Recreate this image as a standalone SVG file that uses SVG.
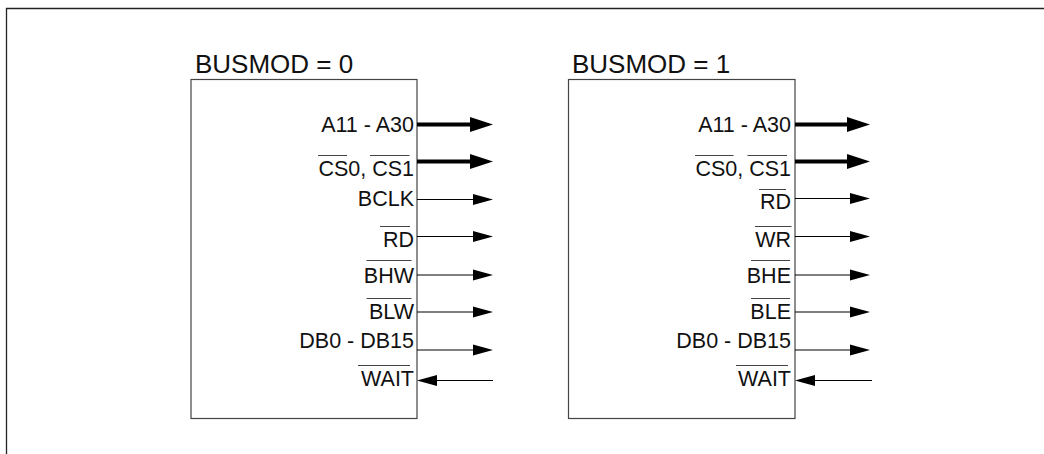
<svg xmlns="http://www.w3.org/2000/svg" width="1044" height="454" viewBox="0 0 1044 454">
<defs>
<style>
.frame{fill:none;stroke:#222;stroke-width:1.3}
.box{fill:#fff;stroke:#444;stroke-width:1.2}
.title{font-family:"Liberation Sans",Arial,sans-serif;font-size:26px;fill:#111}
.lbl{font-family:"Liberation Sans",Arial,sans-serif;font-size:21.5px;fill:#111;text-anchor:end}
.ov{stroke:#444;stroke-width:1;fill:none}
.thin{stroke:#000;stroke-width:1.2;fill:none}
.thick{stroke:#000;stroke-width:4;fill:none}
.head{fill:#000}
</style>
</defs>
<rect width="1044" height="454" fill="#fff"/>
<path class="frame" d="M6.5,454 V8.5 H1044"/>

<g id="node-busmod0">
<rect class="box" x="191" y="79.5" width="226" height="339"/>
<text class="title" x="195" y="73">BUSMOD = 0</text>
<text class="lbl" x="414" y="131.5">A11 - A30</text>
<text class="lbl" x="414" y="176">CS0, CS1</text>
<line class="ov" x1="318" y1="155.5" x2="347" y2="155.5"/>
<line class="ov" x1="370" y1="155.5" x2="409.5" y2="155.5"/>
<text class="lbl" x="414" y="206">BCLK</text>
<text class="lbl" x="414" y="246.5">RD</text>
<line class="ov" x1="380" y1="226.5" x2="410" y2="226.5"/>
<text class="lbl" x="414" y="282.5">BHW</text>
<line class="ov" x1="366.5" y1="260.5" x2="411.5" y2="260.5"/>
<text class="lbl" x="414" y="319">BLW</text>
<line class="ov" x1="366.5" y1="298.5" x2="411.5" y2="298.5"/>
<text class="lbl" x="414" y="348">DB0 - DB15</text>
<text class="lbl" x="414" y="385.5">WAIT</text>
<line class="ov" x1="358" y1="365.5" x2="410" y2="365.5"/>
</g>

<g id="node-busmod1">
<rect class="box" x="568.5" y="79.5" width="226.5" height="339"/>
<text class="title" x="572" y="73">BUSMOD = 1</text>
<text class="lbl" x="791" y="131.5">A11 - A30</text>
<text class="lbl" x="791" y="176">CS0, CS1</text>
<line class="ov" x1="695" y1="155.5" x2="733.5" y2="155.5"/>
<line class="ov" x1="747.5" y1="155.5" x2="787" y2="155.5"/>
<text class="lbl" x="791" y="209">RD</text>
<line class="ov" x1="759" y1="189.5" x2="786" y2="189.5"/>
<text class="lbl" x="791" y="246.5">WR</text>
<line class="ov" x1="755" y1="226.5" x2="791.5" y2="226.5"/>
<text class="lbl" x="791" y="282.5">BHE</text>
<line class="ov" x1="751" y1="260.5" x2="790" y2="260.5"/>
<text class="lbl" x="791" y="319">BLE</text>
<line class="ov" x1="751" y1="298.5" x2="790" y2="298.5"/>
<text class="lbl" x="791" y="348">DB0 - DB15</text>
<text class="lbl" x="791" y="385.5">WAIT</text>
<line class="ov" x1="736" y1="365.5" x2="788" y2="365.5"/>
</g>

<g id="connectors">
<line class="thick" x1="417" y1="124.5" x2="472" y2="124.5"/>
<polygon class="head" points="470,117 493,124.5 470,132"/>
<line class="thick" x1="417" y1="161.5" x2="472" y2="161.5"/>
<polygon class="head" points="470,154 493,161.5 470,169"/>
<line class="thin" x1="417" y1="199.5" x2="475" y2="199.5"/>
<polygon class="head" points="473,194 493,199.5 473,205"/>
<line class="thin" x1="417" y1="236.5" x2="475" y2="236.5"/>
<polygon class="head" points="473,231 493,236.5 473,242"/>
<line class="thin" x1="417" y1="275" x2="475" y2="275"/>
<polygon class="head" points="473,269.5 493,275 473,280.5"/>
<line class="thin" x1="417" y1="312" x2="475" y2="312"/>
<polygon class="head" points="473,306.5 493,312 473,317.5"/>
<line class="thin" x1="417" y1="350" x2="475" y2="350"/>
<polygon class="head" points="473,344.5 493,350 473,355.5"/>
<line class="thin" x1="435" y1="380.5" x2="493" y2="380.5"/>
<polygon class="head" points="437,375 417,380.5 437,386"/>
<line class="thick" x1="795" y1="124.5" x2="849" y2="124.5"/>
<polygon class="head" points="847,117 870,124.5 847,132"/>
<line class="thick" x1="795" y1="161.5" x2="849" y2="161.5"/>
<polygon class="head" points="847,154 870,161.5 847,169"/>
<line class="thin" x1="795" y1="198.5" x2="852" y2="198.5"/>
<polygon class="head" points="850,193 870,198.5 850,204"/>
<line class="thin" x1="795" y1="236.5" x2="852" y2="236.5"/>
<polygon class="head" points="850,231 870,236.5 850,242"/>
<line class="thin" x1="795" y1="275" x2="852" y2="275"/>
<polygon class="head" points="850,269.5 870,275 850,280.5"/>
<line class="thin" x1="795" y1="312" x2="852" y2="312"/>
<polygon class="head" points="850,306.5 870,312 850,317.5"/>
<line class="thin" x1="795" y1="350" x2="852" y2="350"/>
<polygon class="head" points="850,344.5 870,350 850,355.5"/>
<line class="thin" x1="813" y1="380.5" x2="872" y2="380.5"/>
<polygon class="head" points="815,375 795,380.5 815,386"/>
</g>
</svg>
